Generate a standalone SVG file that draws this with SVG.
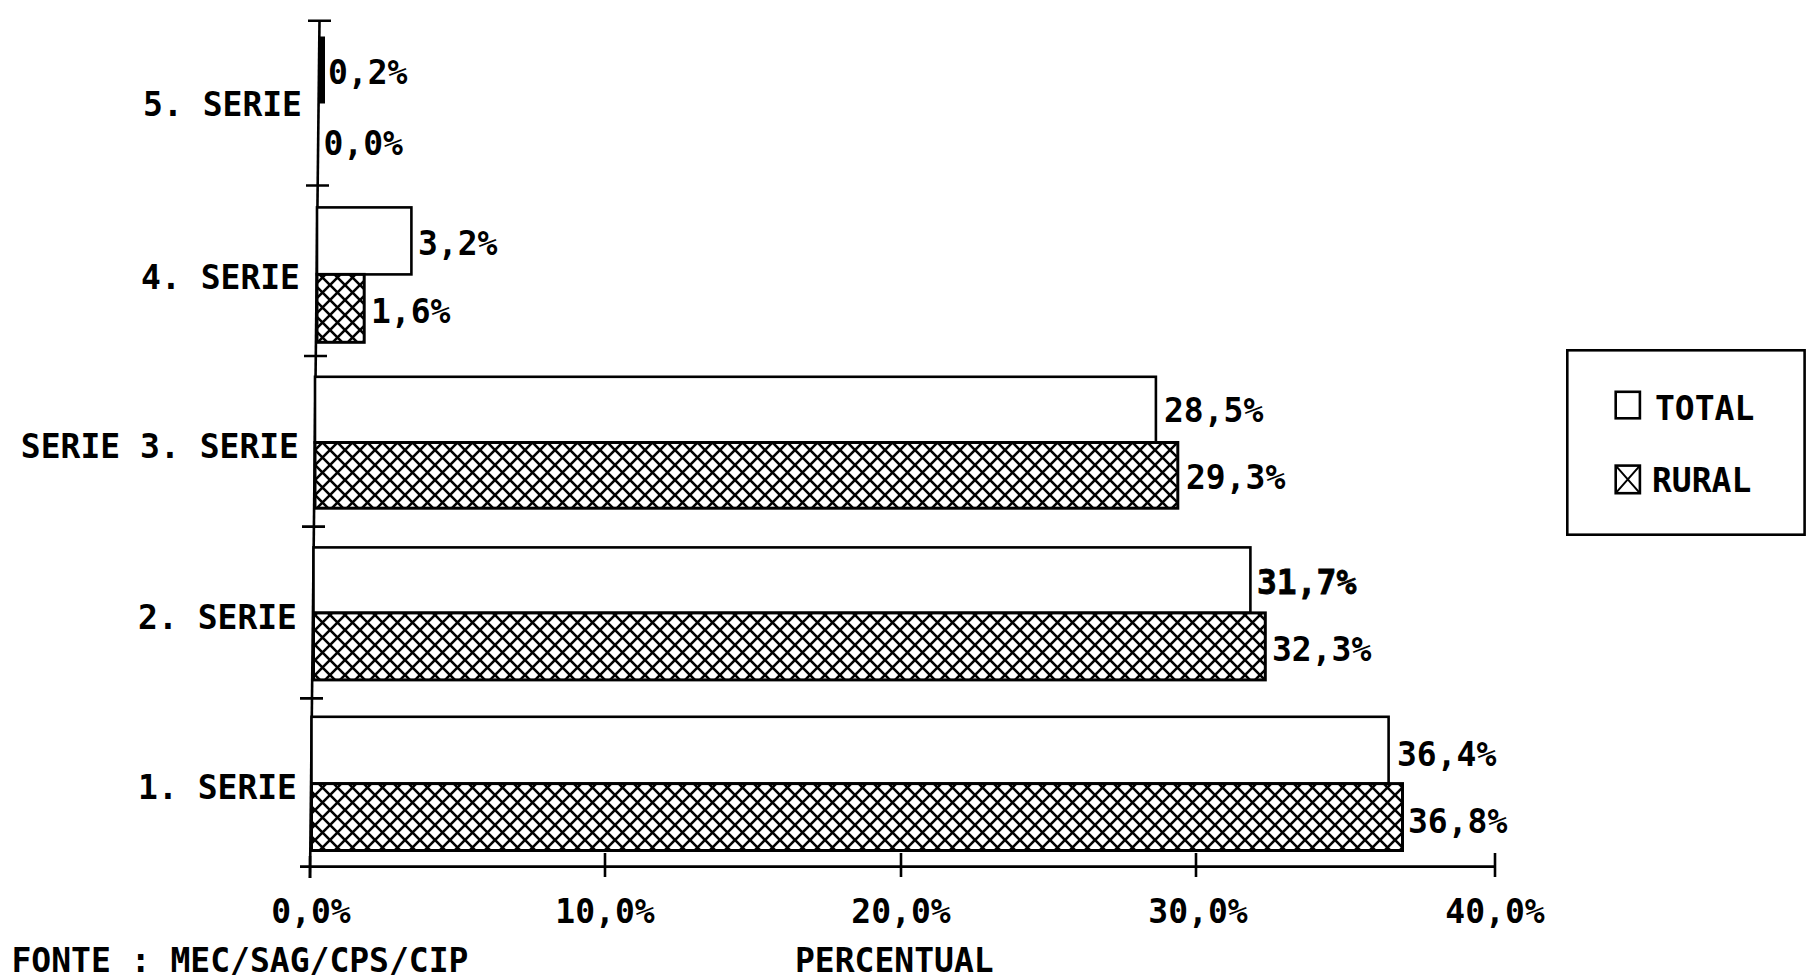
<svg xmlns="http://www.w3.org/2000/svg" width="1807" height="977" viewBox="0 0 1807 977">
<style>
.t{font-family:"DejaVu Sans Mono","Liberation Mono",monospace;font-weight:bold;font-size:33px;fill:#000}
.e{text-anchor:end}
.m{text-anchor:middle}
.bar{stroke:#000;stroke-width:2.6;fill:#fff}
.rur{stroke:#000;stroke-width:3;fill:url(#xh)}
.ax{stroke:#000;stroke-width:2.6;fill:none}
</style>
<defs>
<pattern id="xh" patternUnits="userSpaceOnUse" width="15" height="15">
<rect width="15" height="15" fill="#fff"/>
<path d="M0,0L15,15M15,0L0,15" stroke="#000" stroke-width="2.6"/>
</pattern>
</defs>
<rect width="1807" height="977" fill="#fff"/>

<g id="axes">
<line class="ax" x1="319.5" y1="20.7" x2="310" y2="878" stroke-width="3.2"/>
<line class="ax" x1="300" y1="866.6" x2="1495" y2="866.6"/>
<path class="ax" d="M308,20.7H331M306,185.5H329M304,356H327M302,526.6H325M300,698.4H323"/>
<path class="ax" d="M310,856V878M605,853V877M901,853V877M1196,853V877M1495,853V877"/>
</g>

<g id="serie5">
<rect x="318.5" y="37" width="6" height="66" fill="#000" stroke="#000" stroke-width="1"/>
<text class="t e" x="302" y="115.8">5. SERIE</text>
<text class="t" x="328" y="83.5">0,2%</text>
<text class="t" x="323.5" y="155">0,0%</text>
</g>

<g id="serie4">
<rect class="bar" x="317" y="207.4" width="94.4" height="67"/>
<rect class="rur" x="317" y="274.4" width="47.2" height="67.9"/>
<text class="t e" x="300" y="288.7">4. SERIE</text>
<text class="t" x="418" y="255.3">3,2%</text>
<text class="t" x="371" y="323.3">1,6%</text>
</g>

<g id="serie3">
<rect class="bar" x="315" y="376.8" width="840.9" height="65.7"/>
<rect class="rur" x="315" y="442.5" width="862.8" height="65.7"/>
<text class="t e" x="299" y="458">SERIE 3. SERIE</text>
<text class="t" x="1164" y="422.4">28,5%</text>
<text class="t" x="1186" y="489.2">29,3%</text>
</g>

<g id="serie2">
<rect class="bar" x="313.5" y="547.4" width="936.9" height="65.5"/>
<rect class="rur" x="313.5" y="612.9" width="951.8" height="67"/>
<text class="t e" x="297" y="628.6">2. SERIE</text>
<text class="t" x="1257" y="594.1" stroke="#000" stroke-width="0.8">31,7%</text>
<text class="t" x="1272" y="660.9">32,3%</text>
</g>

<g id="serie1">
<rect class="bar" x="311.5" y="716.8" width="1077.1" height="66.8"/>
<rect class="rur" x="311.5" y="783.6" width="1091" height="66.9"/>
<text class="t e" x="297" y="799.2">1. SERIE</text>
<text class="t" x="1397" y="765.8">36,4%</text>
<text class="t" x="1408" y="832.6">36,8%</text>
</g>

<g id="xlabels">
<text class="t m" x="311" y="922.5">0,0%</text>
<text class="t m" x="605" y="922.5">10,0%</text>
<text class="t m" x="901" y="922.5">20,0%</text>
<text class="t m" x="1198" y="922.5">30,0%</text>
<text class="t m" x="1495" y="922.5">40,0%</text>
<text class="t" x="11.5" y="972">FONTE : MEC/SAG/CPS/CIP</text>
<text class="t" x="795" y="972">PERCENTUAL</text>
</g>

<g id="legend">
<rect class="bar" x="1567.3" y="350.3" width="237.3" height="184.4"/>
<rect class="bar" x="1615.7" y="391.8" width="24.2" height="26.5"/>
<text class="t" x="1655" y="419.5">TOTAL</text>
<rect class="bar" x="1615.7" y="465.6" width="24.2" height="27.6"/>
<path d="M1615.7,465.6L1639.9,493.2M1639.9,465.6L1615.7,493.2" stroke="#000" stroke-width="2"/>
<text class="t" x="1652" y="492">RURAL</text>
</g>
</svg>
